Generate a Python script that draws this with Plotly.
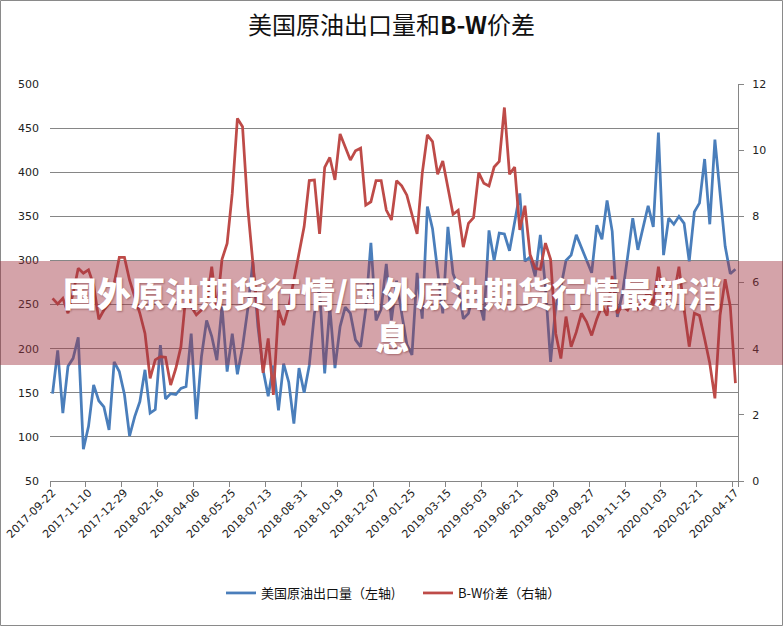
import pandas as pd
import plotly.graph_objects as go

# Weekly categories (week of Good Friday 2020-04-10 missing in the source data)
all_weeks = pd.date_range("2017-09-22", "2020-04-17", freq="7D")
dates = [d.strftime("%Y-%m-%d") for d in all_weeks if d.strftime("%Y-%m-%d") != "2020-04-10"]
tick_dates = dates[::7]

# 美国原油出口量 (left axis)
exports = [
    149, 198, 127, 180, 189, 213, 86, 112, 159, 141,
    134, 108, 185, 174, 148, 101, 123, 140, 176, 127,
    131, 204, 143, 149, 148, 155, 157, 217, 120, 191,
    232, 214, 187, 248, 174, 217, 171, 202, 244, 298,
    225, 176, 146, 181, 130, 183, 162, 115, 178, 150,
    181, 240, 268, 172, 247, 178, 225, 247, 240, 210,
    202, 245, 320, 232, 245, 296, 232, 277, 240, 205,
    193, 286, 234, 361, 336, 285, 240, 338, 285, 270,
    234, 240, 263, 255, 232, 334, 300, 331, 330, 311,
    342, 376, 299, 304, 282, 329, 270, 185, 248, 270,
    300, 306, 329, 314, 299, 286, 340, 324, 368, 333,
    236, 263, 304, 348, 312, 338, 362, 338, 445, 306,
    348, 341, 350, 342, 299, 355, 365, 415, 341, 437,
    380, 316, 285, 290,
]

# B-W价差 (right axis)
spread = [
    5.52, 5.35, 5.52, 5.07, 5.67, 6.43, 6.28, 6.38, 5.92, 4.89,
    5.17, 5.37, 5.98, 6.76, 6.76, 6.07, 5.57, 5.07, 4.46, 3.10,
    3.66, 3.76, 3.74, 2.90, 3.40, 4.06, 5.67, 5.27, 5.02, 5.17,
    5.37, 6.48, 5.17, 6.70, 7.18, 8.70, 10.96, 10.71, 8.29, 6.60,
    4.80, 3.27, 4.31, 2.60, 5.17, 4.71, 5.27, 6.10, 6.98, 7.69,
    9.08, 9.10, 7.47, 9.48, 9.78, 9.10, 10.49, 10.10, 9.70, 9.98,
    10.06, 8.34, 8.44, 9.08, 9.08, 8.19, 7.89, 9.08, 8.92, 8.64,
    8.09, 7.47, 9.30, 10.46, 10.26, 9.27, 9.67, 8.85, 8.06, 8.18,
    7.07, 7.79, 7.96, 9.32, 9.00, 8.92, 9.49, 9.66, 11.29, 9.27,
    9.49, 7.59, 8.32, 6.85, 6.43, 6.40, 7.19, 6.70, 4.46, 3.70,
    4.97, 4.06, 4.50, 5.07, 4.81, 4.40, 4.90, 5.30, 5.00, 6.20,
    5.07, 5.30, 5.17, 5.50, 5.20, 5.40, 5.77, 5.30, 6.48, 5.50,
    5.80, 5.60, 6.48, 5.20, 4.06, 5.07, 5.00, 4.30, 3.56, 2.50,
    5.00, 6.10, 5.27, 2.96,
]

title_text = "美国原油出口量和<b>B-W</b>价差"
name_exports = "美国原油出口量（左轴)"
name_spread = "B-W价差（右轴）"
banner_text = "国外原油期货行情/国外原油期货行情最新消<br>息"

W, H = 783, 626
ML, MR, MT, MB = 50, 45, 84, 145
PW, PH = W - ML - MR, H - MT - MB

def px_x(p):
    return (p - ML) / PW

def px_y(p):
    return (H - MB - p) / PH

grid = "#868686"
tick_font = dict(family="DejaVu Sans, Verdana, sans-serif", size=11, color="#222222")
cjk = "Noto Sans CJK SC, sans-serif"

fig = go.Figure()
fig.add_trace(go.Scatter(
    x=dates, y=exports, name=name_exports, mode="lines",
    line=dict(color="#4A7EBB", width=2.75),
))
fig.add_trace(go.Scatter(
    x=dates, y=spread, name=name_spread, mode="lines", yaxis="y2",
    line=dict(color="#BE4B48", width=2.75),
))

fig.update_layout(
    width=W, height=H,
    margin=dict(l=ML, r=MR, t=MT, b=MB, autoexpand=False),
    paper_bgcolor="white", plot_bgcolor="white",
    title=dict(text=title_text, x=0.5, xref="container", xanchor="center",
               y=1 - 26 / H, yref="container", yanchor="middle",
               font=dict(family=cjk, size=24, color="#111111")),
    xaxis=dict(
        type="category", tickmode="array", tickvals=tick_dates, ticktext=tick_dates,
        tickangle=-45, tickson="boundaries", ticks="outside", ticklen=5,
        tickcolor=grid, showline=True, linecolor=grid, linewidth=1,
        showgrid=False, zeroline=False, range=[-0.5, len(dates) - 0.5],
        tickfont=tick_font, automargin=False,
    ),
    yaxis=dict(
        range=[50, 500], dtick=50, tick0=50, showgrid=True, gridcolor=grid,
        gridwidth=1, zeroline=False, showline=False, ticks="",
        tickfont=tick_font, ticklabelstandoff=10, automargin=False,
    ),
    yaxis2=dict(
        range=[0, 12], dtick=2, tick0=0, overlaying="y", side="right",
        showgrid=False, zeroline=False, showline=True, linecolor=grid,
        ticks="outside", ticklen=5, tickcolor=grid, tickfont=tick_font,
        ticklabelstandoff=6, automargin=False,
    ),
    legend=dict(
        orientation="h", x=px_x(221), xanchor="left", y=px_y(593),
        yanchor="middle", font=dict(family=cjk, size=13, color="#111111"),
        itemwidth=30, entrywidth=152, entrywidthmode="pixels",
        bgcolor="rgba(0,0,0,0)",
    ),
    showlegend=True,
    shapes=[
        dict(type="rect", xref="paper", yref="paper",
             x0=px_x(0.5), x1=px_x(W - 0.5), y0=px_y(H - 0.5), y1=px_y(0.5),
             line=dict(color="#8a8a8a", width=1), fillcolor="rgba(0,0,0,0)",
             layer="below"),
        dict(type="rect", xref="paper", yref="paper",
             x0=px_x(0), x1=px_x(W), y0=px_y(365), y1=px_y(261),
             line=dict(width=0), fillcolor="rgba(160,50,65,0.45)",
             layer="above"),
    ],
    annotations=[
        dict(text=banner_text, xref="paper", yref="paper",
             x=px_x(392), y=px_y(314), xanchor="center", yanchor="middle",
             showarrow=False, align="center",
             font=dict(family=cjk, size=34, color="white", weight=900,
                       shadow="1px 1px 2px rgba(80,0,0,0.35)")),
    ],
)

fig.write_html("out.html")
